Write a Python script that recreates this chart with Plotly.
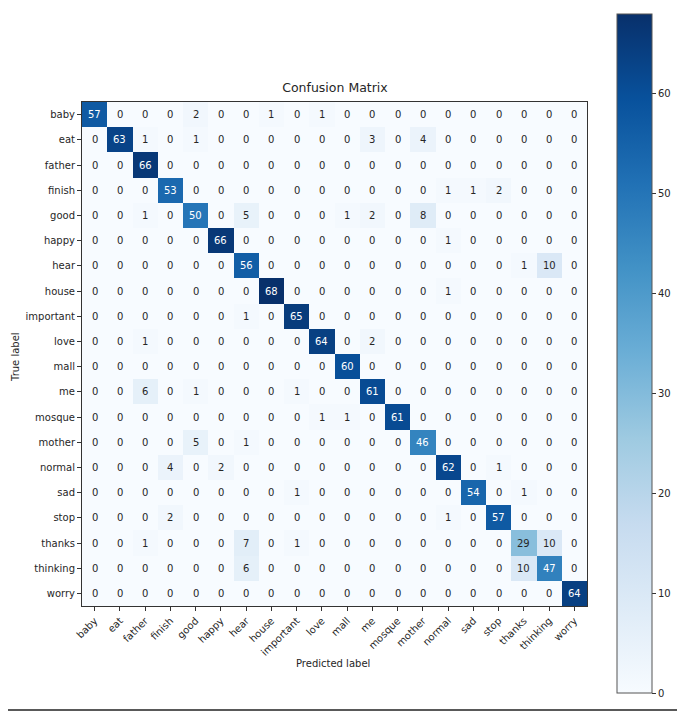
import plotly.graph_objects as go

labels = ["baby", "eat", "father", "finish", "good", "happy", "hear", "house",
          "important", "love", "mall", "me", "mosque", "mother", "normal",
          "sad", "stop", "thanks", "thinking", "worry"]

# rows = true label, cols = predicted label
row_baby = [57, 0, 0, 0, 2, 0, 0, 1, 0, 1, 0, 0, 0, 0, 0, 0, 0, 0, 0, 0]
row_eat = [0, 63, 1, 0, 1, 0, 0, 0, 0, 0, 0, 3, 0, 4, 0, 0, 0, 0, 0, 0]
row_father = [0, 0, 66, 0, 0, 0, 0, 0, 0, 0, 0, 0, 0, 0, 0, 0, 0, 0, 0, 0]
row_finish = [0, 0, 0, 53, 0, 0, 0, 0, 0, 0, 0, 0, 0, 0, 1, 1, 2, 0, 0, 0]
row_good = [0, 0, 1, 0, 50, 0, 5, 0, 0, 0, 1, 2, 0, 8, 0, 0, 0, 0, 0, 0]
row_happy = [0, 0, 0, 0, 0, 66, 0, 0, 0, 0, 0, 0, 0, 0, 1, 0, 0, 0, 0, 0]
row_hear = [0, 0, 0, 0, 0, 0, 56, 0, 0, 0, 0, 0, 0, 0, 0, 0, 0, 1, 10, 0]
row_house = [0, 0, 0, 0, 0, 0, 0, 68, 0, 0, 0, 0, 0, 0, 1, 0, 0, 0, 0, 0]
row_important = [0, 0, 0, 0, 0, 0, 1, 0, 65, 0, 0, 0, 0, 0, 0, 0, 0, 0, 0, 0]
row_love = [0, 0, 1, 0, 0, 0, 0, 0, 0, 64, 0, 2, 0, 0, 0, 0, 0, 0, 0, 0]
row_mall = [0, 0, 0, 0, 0, 0, 0, 0, 0, 0, 60, 0, 0, 0, 0, 0, 0, 0, 0, 0]
row_me = [0, 0, 6, 0, 1, 0, 0, 0, 1, 0, 0, 61, 0, 0, 0, 0, 0, 0, 0, 0]
row_mosque = [0, 0, 0, 0, 0, 0, 0, 0, 0, 1, 1, 0, 61, 0, 0, 0, 0, 0, 0, 0]
row_mother = [0, 0, 0, 0, 5, 0, 1, 0, 0, 0, 0, 0, 0, 46, 0, 0, 0, 0, 0, 0]
row_normal = [0, 0, 0, 4, 0, 2, 0, 0, 0, 0, 0, 0, 0, 0, 62, 0, 1, 0, 0, 0]
row_sad = [0, 0, 0, 0, 0, 0, 0, 0, 1, 0, 0, 0, 0, 0, 0, 54, 0, 1, 0, 0]
row_stop = [0, 0, 0, 2, 0, 0, 0, 0, 0, 0, 0, 0, 0, 0, 1, 0, 57, 0, 0, 0]
row_thanks = [0, 0, 1, 0, 0, 0, 7, 0, 1, 0, 0, 0, 0, 0, 0, 0, 0, 29, 10, 0]
row_thinking = [0, 0, 0, 0, 0, 0, 6, 0, 0, 0, 0, 0, 0, 0, 0, 0, 0, 10, 47, 0]
row_worry = [0, 0, 0, 0, 0, 0, 0, 0, 0, 0, 0, 0, 0, 0, 0, 0, 0, 0, 0, 64]

matrix = [row_baby, row_eat, row_father, row_finish, row_good, row_happy,
          row_hear, row_house, row_important, row_love, row_mall, row_me,
          row_mosque, row_mother, row_normal, row_sad, row_stop, row_thanks,
          row_thinking, row_worry]

colorbar_ticks = [0, 10, 20, 30, 40, 50, 60]

BLUES = ["rgb(247,251,255)", "rgb(222,235,247)", "rgb(198,219,239)",
         "rgb(158,202,225)", "rgb(107,174,214)", "rgb(66,146,198)",
         "rgb(33,113,181)", "rgb(8,81,156)", "rgb(8,48,107)"]
FONT = "DejaVu Sans, sans-serif"
TEXT = "#262626"

# the page body has an 8px margin, so everything is laid out 8px up/left
OFF = 8
W, H = 685 - OFF, 712 - OFF
L, T = 82 - OFF, 102 - OFF
R, B = W - (587 - OFF), H - (606 - OFF)
pw, ph = W - L - R, H - T - B


def px_x(x):
    return (x - OFF - L) / pw


def px_y(y):
    return (H - B - (y - OFF)) / ph


zmax = max(max(r) for r in matrix)
thresh = zmax / 2.0

fig = go.Figure(go.Heatmap(
    z=matrix, x=labels, y=labels,
    colorscale=[[i / (len(BLUES) - 1), c] for i, c in enumerate(BLUES)],
    zmin=0, zmax=zmax,
    colorbar=dict(
        thickness=35, thicknessmode="pixels",
        len=679, lenmode="pixels",
        x=px_x(617), xanchor="left", xpad=0,
        y=px_y(353.5), yanchor="middle", ypad=0,
        outlinewidth=1, outlinecolor="#555",
        tickvals=colorbar_ticks,
        ticks="outside", ticklen=4, tickcolor="#333",
        tickfont=dict(family=FONT, size=10, color=TEXT),
    ),
))

annotations = []
for i, row in enumerate(matrix):
    for j, v in enumerate(row):
        annotations.append(dict(
            x=labels[j], y=labels[i], text=str(v), showarrow=False,
            font=dict(family=FONT, size=10, color="white" if v > thresh else TEXT),
        ))

annotations.append(dict(
    xref="paper", yref="paper", x=px_x(15), y=px_y(357), text="True label",
    textangle=-90, showarrow=False, xanchor="center", yanchor="middle",
    font=dict(family=FONT, size=10, color=TEXT)))
annotations.append(dict(
    xref="paper", yref="paper", x=px_x(333), y=px_y(663), text="Predicted label",
    showarrow=False, xanchor="center", yanchor="middle",
    font=dict(family=FONT, size=10, color=TEXT)))

fig.update_layout(
    width=W, height=H,
    margin=dict(l=L, r=R, t=T, b=B),
    paper_bgcolor="white", plot_bgcolor="white",
    font=dict(family=FONT, size=10, color=TEXT),
    title=dict(text="Confusion Matrix", x=(335 - OFF) / W, xanchor="center",
               y=1 - (88 - OFF) / H, yanchor="middle",
               font=dict(family=FONT, size=12.5, color=TEXT)),
    annotations=annotations,
    shapes=[
        # outer frame of the picture (right and bottom edges)
        dict(type="line", xref="paper", yref="paper",
             x0=px_x(683), x1=px_x(683), y0=px_y(0), y1=px_y(710),
             line=dict(color="#222", width=1.5)),
        dict(type="line", xref="paper", yref="paper",
             x0=px_x(0), x1=px_x(683), y0=px_y(710), y1=px_y(710),
             line=dict(color="#222", width=1.5)),
    ],
)
fig.update_xaxes(
    tickangle=-45, ticks="outside", ticklen=4, tickcolor="#333",
    showline=True, mirror=True, linecolor="#333", linewidth=1,
    showgrid=False, zeroline=False,
    tickfont=dict(family=FONT, size=10, color=TEXT),
)
fig.update_yaxes(
    autorange="reversed", ticks="outside", ticklen=4, tickcolor="#333",
    showline=True, mirror=True, linecolor="#333", linewidth=1,
    showgrid=False, zeroline=False,
    tickfont=dict(family=FONT, size=10, color=TEXT),
)

fig.write_html("out.html")
